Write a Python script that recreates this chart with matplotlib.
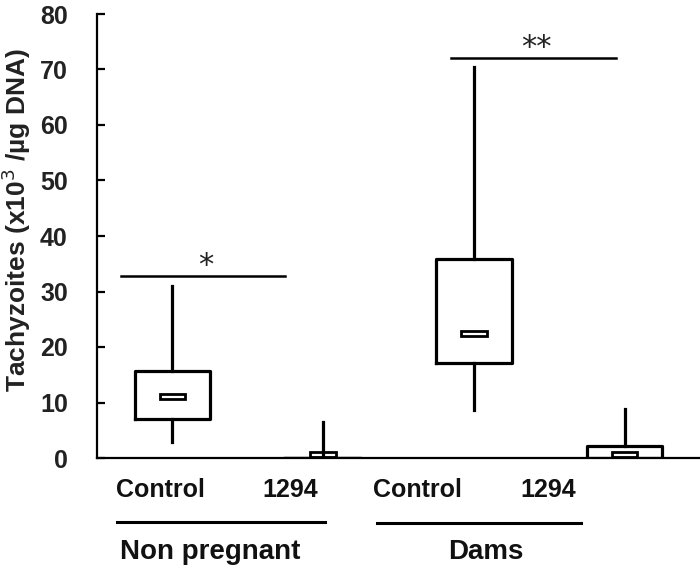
import matplotlib.pyplot as plt
from matplotlib.patches import Rectangle

plt.rcParams['font.family'] = ['Liberation Sans', 'DejaVu Sans']

# box statistics (x10^3 tachyzoites / ug DNA)
groups = ['Control', '1294', 'Control', '1294']
whislo = [2.9, 0.0, 8.6, 0.0]
q1 = [7.0, 0.0, 17.1, 0.0]
med = [11.0, 0.6, 22.5, 0.6]
q3 = [15.7, 0.0, 35.9, 2.2]
whishi = [31.0, 6.4, 70.5, 8.9]
positions = [1, 2, 3, 4]

# significance bars
sig_x = [(0.66, 1.75), (2.85, 3.94)]
sig_y = [32.8, 72.1]
sig_txt = ['*', '**']
sig_tx = [1.222, 3.414]

fig = plt.figure(figsize=(7, 5.79), dpi=100)
ax = fig.add_axes([97 / 700, 121 / 579, 603 / 700, (458 - 14) / 579])

stats = [dict(whislo=a, q1=b, med=c, q3=d, whishi=e)
         for a, b, c, d, e in zip(whislo, q1, med, q3, whishi)]
lw = 2.3
ax.bxp(stats, positions=positions, widths=0.5, showcaps=False,
       showfliers=False,
       boxprops=dict(color='black', linewidth=lw),
       whiskerprops=dict(color='black', linewidth=lw),
       medianprops=dict(visible=False))

# median drawn as a small rectangle
mw, mh = 0.17, 0.9
for p, m in zip(positions, med):
    ax.add_patch(Rectangle((p - mw / 2, m - mh / 2), mw, mh, facecolor='white',
                           edgecolor='black', linewidth=2.0, zorder=1.5))

for (x0, x1), y, t, tx in zip(sig_x, sig_y, sig_txt, sig_tx):
    ax.plot([x0, x1], [y, y], color='black', linewidth=1.8, clip_on=False)
    ax.text(tx, y + 0.4, t, ha='center', va='baseline', fontsize=22,
            family='DejaVu Sans', color='#222222')

ax.set_xlim(0.5, 4.5)
ax.set_ylim(0, 80)
ax.set_yticks(range(0, 81, 10))
ax.set_xticks([])
ax.tick_params(axis='y', direction='in', length=6, width=1.6, pad=21,
               labelsize=18)
for lab in ax.get_yticklabels():
    lab.set_fontweight('bold')
    lab.set_color('#222222')
ax.spines['top'].set_visible(False)
ax.spines['right'].set_visible(False)
ax.spines['left'].set_linewidth(1.6)
ax.spines['bottom'].set_linewidth(1.6)

# category labels under the axis
label_x = [0.924, 1.78, 2.626, 3.49]
for x, g in zip(label_x, groups):
    ax.text(x, -5.8, g, ha='center', va='center', fontsize=18,
            fontweight='bold', color='#111111', clip_on=False)
ax.plot([0.632, 2.01], [-11.5, -11.5], color='black', linewidth=2.2, clip_on=False)
ax.plot([2.36, 3.71], [-11.7, -11.7], color='black', linewidth=2.2, clip_on=False)
ax.text(1.248, -17.0, 'Non pregnant', ha='center', va='center', fontsize=20,
        fontweight='bold', color='#111111', clip_on=False)
ax.text(3.076, -17.0, 'Dams', ha='center', va='center', fontsize=20,
        fontweight='bold', color='#111111', clip_on=False)

fig.text(16 / 700, 1 - 220 / 579, 'Tachyzoites (x10$^{3}$ /µg DNA)', rotation=90,
         ha='center', va='center', fontsize=19, fontweight='bold', color='#222222')

fig.savefig('out.png', dpi=100)
